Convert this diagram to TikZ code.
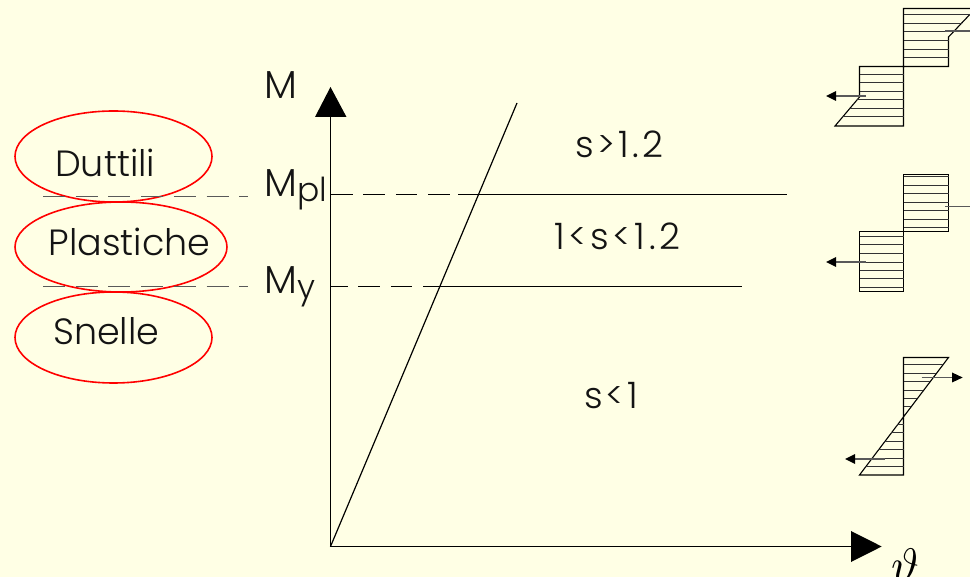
\documentclass[tikz,border=0pt]{standalone}
\usepackage{fontspec}
\setmainfont{Poppins Light}
\usetikzlibrary{shapes.geometric}
\definecolor{paper}{HTML}{FFFFE5}
\tikzset{
  x=1pt,y=-1pt,
  ell/.style={draw=red,line width=1.6pt,ellipse,inner sep=0pt},
  lab/.style={font=\fontsize{36.5}{36.5}\selectfont,text=black!92,inner sep=0pt,anchor=base west},
  maxis/.style={font=\fontsize{39}{39}\selectfont,text=black!92,inner sep=0pt,anchor=base west},
  thin line/.style={line width=1.2pt,black},
  dash line/.style={line width=1.2pt,black!65,dash pattern=on 22pt off 10.7pt},
  hatch/.style={line width=1pt,black!80},
  outline/.style={line width=1.1pt,black},
  bigtip/.style={fill=black,draw=none},
  smalltip/.style={fill=black,draw=none},
  force/.style={line width=1.1pt,black!65},
}
\begin{document}
\begin{tikzpicture}
\useasboundingbox (0,0) rectangle (970,577);
\fill[paper] (0,0) rectangle (970,577);
\begin{scope}
\clip (0,0) rectangle (970,577);
% ellipses
\node[ell,minimum width=197pt,minimum height=91pt] (e1) at (113.5,156.5) {};
\node[ell,minimum width=212pt,minimum height=90pt] (e2) at (121,247) {};
\node[ell,minimum width=197pt,minimum height=91pt] (e3) at (113.5,337.5) {};
\node[lab] (t1) at (55,177) {Duttili};
\node[lab] (t2) at (48.5,256) {Plastiche};
\node[lab] (t3) at (53,344.5) {Snelle};
% axes
\coordinate (O) at (330.5,546.5);
\coordinate (Ytop) at (330.5,117);
\coordinate (Xend) at (851,546.5);
\coordinate (Dend) at (517,103);
\draw[thin line] (O) -- (Ytop);
\draw[thin line] (O) -- (Xend);
\draw[thin line] (O) -- (Dend);
\fill[bigtip] (315,117) -- (330.5,87) -- (346.5,117) -- cycle;
\fill[bigtip] (851,531) -- (881.7,546.5) -- (851,562) -- cycle;
\node[maxis] (M) at (264,98.5) {M};
\node[maxis] (Mpl) at (264,196.5) {M\raisebox{-5pt}{\fontsize{33}{33}\selectfont pl}};
\node[maxis] (My) at (264,293.5) {M\raisebox{-5pt}{\fontsize{33}{33}\selectfont y}};
\node[inner sep=0pt,anchor=north] (th) at (905,549) {\scalebox{4.7}{$\vartheta$}};
% levels
\coordinate (a0) at (43,196.5);
\coordinate (a1) at (248,196.5);
\coordinate (b0) at (43,286.5);
\coordinate (b1) at (248,286.5);
\draw[dash line] (a0) -- (a1);
\draw[dash line] (b0) -- (b1);
\coordinate (p0) at (331,194.5);
\coordinate (p1) at (458,194.5);
\coordinate (p2) at (787,194.5);
\coordinate (q0) at (331,286.5);
\coordinate (q1) at (423,286.5);
\coordinate (q2) at (742,286.5);
\draw[thin line,dash pattern=on 21.5pt off 10.9pt] (p0) -- (p1);
\draw[thin line] (p1) -- (p2);
\draw[thin line,dash pattern=on 21.5pt off 10.9pt,dash phase=5pt] (q0) -- (q1);
\draw[thin line] (q1) -- (q2);
\node[lab,font=\fontsize{36.5}{36.5}\addfontfeature{LetterSpace=9}] (s1) at (575,158) {s>1.2};
\node[lab,font=\fontsize{36.5}{36.5}\addfontfeature{LetterSpace=10}] (s2) at (554,250) {1<s<1.2};
\node[lab,font=\fontsize{36.5}{36.5}\addfontfeature{LetterSpace=8}] (s3) at (584,408.5) {s<1};
% top block
\draw[outline] (903.5,66.5) -- (903.5,8.5) -- (970,8.5) (970,14.3) -- (948.5,37) -- (948.5,66.5) -- (859.5,66.5) -- (859.5,97) -- (835,126) -- (903.5,126) -- (903.5,66.5);
\foreach \y/\xa in {14.5/970,23.5/962,31.5/954,40.5/948.5,49.5/948.5,57.5/948.5}
  \draw[hatch] (903.5,\y) -- (\xa,\y);
\foreach \y/\xa in {74.5/859.5,82.5/859.5,91.5/859.5,99.5/857,108.5/850,116.5/843}
  \draw[hatch] (903.5,\y) -- (\xa,\y);
\draw[force] (945,31) -- (970,31);
\draw[force] (866,96) -- (836,96);
\fill[smalltip] (836,91) -- (826,96) -- (836,101) -- cycle;
% middle block
\draw[outline] (903.5,231.5) -- (903.5,174.5) -- (948.5,174.5) -- (948.5,231.5) -- (859.5,231.5) -- (859.5,291.5) -- (903.5,291.5) -- cycle;
\foreach \y in {176.5,185.5,193.5,202.5,210.5,219.5,227.5}
  \draw[hatch] (903.5,\y) -- (948.5,\y);
\foreach \y in {236.5,244.5,253.5,262.5,270.5,278.5,287.5}
  \draw[hatch] (859.5,\y) -- (903.5,\y);
\draw[force] (945,206.5) -- (970,206.5);
\draw[force] (866,262) -- (836,262);
\fill[smalltip] (836,257) -- (826,262) -- (836,267) -- cycle;
% bottom block
\draw[outline] (903.5,475) -- (903.5,357.5) -- (948.5,357.5) -- (859.5,475) -- cycle;
\foreach \y in {364.5,373.5,381.5,390.5,398.5,406.5}
  \draw[hatch] (903.5,\y) -- ({903.5+(416-\y)*0.767},\y);
\foreach \y in {424.5,432.5,441.5,449.5,458.5,466.5}
  \draw[hatch] (903.5,\y) -- ({903.5-(\y-416)*0.767},\y);
\draw[force] (921.7,377.5) -- (952,377.5);
\fill[smalltip] (952,372.5) -- (962.7,377.5) -- (952,382.5) -- cycle;
\draw[force] (885,459) -- (855,459);
\fill[smalltip] (855,454) -- (845,459) -- (855,464) -- cycle;
\end{scope}
\end{tikzpicture}
\end{document}
